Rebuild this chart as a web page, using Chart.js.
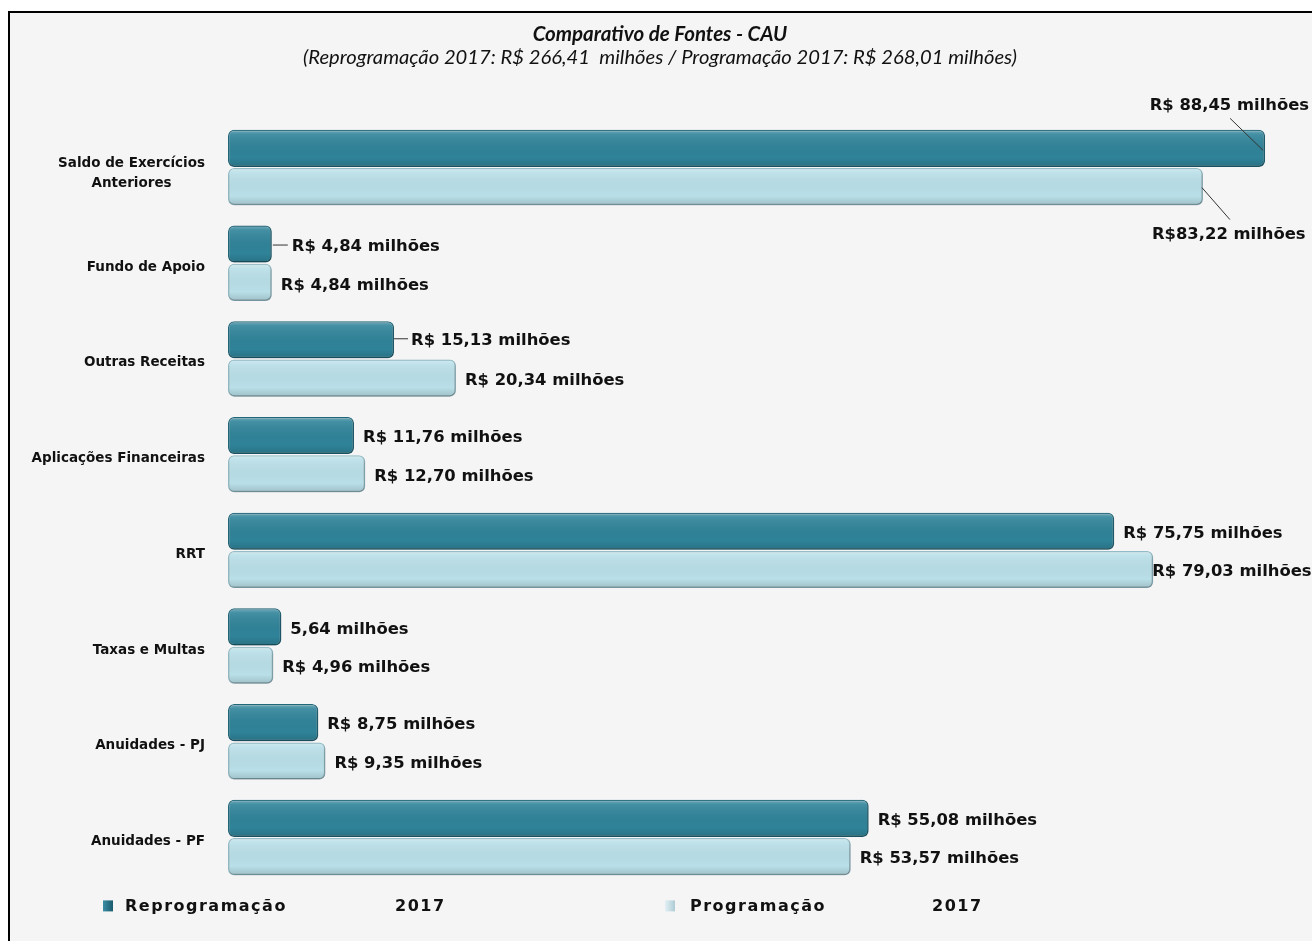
<!DOCTYPE html>
<html lang="pt-BR">
<head>
<meta charset="utf-8">
<title>Comparativo de Fontes - CAU</title>
<script src="https://cdn.jsdelivr.net/npm/chart.js@4.4.1/dist/chart.umd.min.js"></script>
<style>
  html, body { margin: 0; padding: 0; background: #fff; }
  #wrap { width: 1312px; height: 941px; }
</style>
</head>
<body>
<div id="wrap"><canvas id="fontes" width="1312" height="941"></canvas></div>
<script>
// fontes de receita, em milhões de R$
const categorias = [
  ['Saldo de Exercícios', 'Anteriores'],
  'Fundo de Apoio',
  'Outras Receitas',
  'Aplicações Financeiras',
  'RRT',
  'Taxas e Multas',
  'Anuidades - PJ',
  'Anuidades - PF'
];
const reprogramacao2017 = [88.45, 4.84, 15.13, 11.76, 75.75, 5.64, 8.75, 55.08];
const programacao2017 = [83.22, 4.84, 20.34, 12.70, 79.03, 4.96, 9.35, 53.57];

const rotulosReprog = [
  'R$ 88,45 milhões', 'R$ 4,84 milhões', 'R$ 15,13 milhões', 'R$ 11,76 milhões',
  'R$ 75,75 milhões', '5,64 milhões', 'R$ 8,75 milhões', 'R$ 55,08 milhões'
];
const rotulosProg = [
  'R$83,22 milhões', 'R$ 4,84 milhões', 'R$ 20,34 milhões', 'R$ 12,70 milhões',
  'R$ 79,03 milhões', 'R$ 4,96 milhões', 'R$ 9,35 milhões', 'R$ 53,57 milhões'
];

const titulo = 'Comparativo de Fontes - CAU';
const subtitulo = '(Reprogramação 2017: R$ 266,41  milhões / Programação 2017: R$ 268,01 milhões)';
const legendaNomes = ['Reprogramação', 'Programação'];
const legendaAno = '2017';

const eixoMin = 1.153;
const eixoMax = 90.55;

const corEscura = '#2f8399';
const corClara = '#b9dfe8';

// ajustes de posição dos rótulos (dx/dy em relação ao padrão, linhas guia relativas ao fim da barra)
const ajusteRotulos = {
  0: {
    0: { right: true, dx: 44, dy: -45, guia: [[-2, 2], [-35, -30]] },
    1: { dx: 11, dy: 0, guia: [[1, 1], [16, 1]] },
    2: { dx: 8, dy: -2, guia: [[0, -1], [14, -1]] }
  },
  1: {
    0: { dx: -60, dy: 46, guia: [[-1, 1], [27, 33]] },
    1: { dx: 0, dy: 1 },
    4: { dx: -10, dy: 0 }
  }
};

const fonteValor = 'bold 16.4px "DejaVu Sans"';
const fonteCategoria = 'bold 13.5px "DejaVu Sans"';

const moldura = {
  id: 'moldura',
  beforeDraw(chart) {
    const ctx = chart.ctx;
    ctx.save();
    ctx.fillStyle = '#ffffff';
    ctx.fillRect(0, 0, chart.width, chart.height);
    ctx.fillStyle = '#f5f5f5';
    ctx.fillRect(9, 12, chart.width - 9, chart.height - 12);
    ctx.strokeStyle = '#000';
    ctx.lineWidth = 2;
    ctx.beginPath();
    ctx.moveTo(9, chart.height);
    ctx.lineTo(9, 12);
    ctx.lineTo(chart.width, 12);
    ctx.stroke();
    ctx.restore();
  }
};

// sombra leve sob as barras e um brilho em relevo por cima
const relevoBarras = {
  id: 'relevoBarras',
  beforeDatasetsDraw(chart) {
    const ctx = chart.ctx;
    ctx.save();
    ctx.shadowColor = 'rgba(0,0,0,0.28)';
    ctx.shadowBlur = 3;
    ctx.shadowOffsetX = 1;
    ctx.shadowOffsetY = 2;
  },
  afterDatasetsDraw(chart) {
    const ctx = chart.ctx;
    ctx.restore();
    ctx.save();
    chart.data.datasets.forEach((ds, d) => {
      chart.getDatasetMeta(d).data.forEach(bar => {
        const { x, y, base, height } = bar.getProps(['x', 'y', 'base', 'height'], true);
        const top = y - height / 2;
        const g = ctx.createLinearGradient(0, top, 0, top + height);
        g.addColorStop(0, 'rgba(255,255,255,0.35)');
        g.addColorStop(0.12, 'rgba(255,255,255,0.10)');
        g.addColorStop(0.75, 'rgba(0,0,0,0)');
        g.addColorStop(1, 'rgba(0,0,0,0.14)');
        ctx.fillStyle = g;
        ctx.beginPath();
        ctx.roundRect(base + 1, top + 1, x - base - 2, height - 2, 5);
        ctx.fill();
      });
    });
    ctx.restore();
  }
};

const textos = {
  id: 'textos',
  afterDraw(chart) {
    const ctx = chart.ctx;
    const area = chart.chartArea;
    const y = chart.scales.y;
    ctx.save();
    ctx.fillStyle = '#111';

    // títulos
    ctx.textAlign = 'center';
    ctx.textBaseline = 'middle';
    ctx.font = 'italic bold 20.5px Lato';
    ctx.fillText(titulo, 660, 34);
    ctx.font = 'italic 20.2px Lato';
    ctx.fillText(subtitulo, 660, 57);

    // categorias
    ctx.font = fonteCategoria;
    categorias.forEach((c, i) => {
      const linhas = Array.isArray(c) ? c : [c];
      const largura = Math.max(...linhas.map(l => ctx.measureText(l).width));
      const cy = y.getPixelForValue(i) + (linhas.length > 1 ? 6 : 4);
      const altura = 20;
      linhas.forEach((l, k) => {
        const ly = cy + (k - (linhas.length - 1) / 2) * altura;
        if (linhas.length > 1) {
          ctx.textAlign = 'center';
          ctx.fillText(l, 205 - largura / 2, ly);
        } else {
          ctx.textAlign = 'right';
          ctx.fillText(l, 205, ly);
        }
      });
    });

    // rótulos de valor
    ctx.font = fonteValor;
    [rotulosReprog, rotulosProg].forEach((rotulos, d) => {
      const meta = chart.getDatasetMeta(d);
      meta.data.forEach((bar, i) => {
        const aj = (ajusteRotulos[d] && ajusteRotulos[d][i]) || { dx: 0, dy: 0 };
        let x = bar.x + 9 + aj.dx;
        const ly = bar.y + 2.5 + aj.dy;
        if (aj.right) {
          x = bar.x + aj.dx;
          ctx.textAlign = 'right';
        } else {
          ctx.textAlign = 'left';
        }
        ctx.fillText(rotulos[i], x, ly);
        if (aj.guia) {
          ctx.strokeStyle = '#333';
          ctx.lineWidth = 1;
          ctx.beginPath();
          ctx.moveTo(bar.x + aj.guia[0][0], bar.y + aj.guia[0][1]);
          ctx.lineTo(bar.x + aj.guia[1][0], bar.y + aj.guia[1][1]);
          ctx.stroke();
        }
      });
    });

    // legenda
    const ly = area.bottom + 21;
    const itens = [
      { marca: 103, nome: 125, ano: 395, cores: ['#3a8ea6', '#1b5a6c'] },
      { marca: 665, nome: 690, ano: 932, cores: ['#e2f1f5', '#aecbd4'] }
    ];
    ctx.textAlign = 'left';
    ctx.font = 'bold 16px "DejaVu Sans"';
    ctx.letterSpacing = '1.5px';
    itens.forEach((it, k) => {
      const g = ctx.createLinearGradient(it.marca, 0, it.marca + 10, 0);
      g.addColorStop(0, it.cores[0]);
      g.addColorStop(1, it.cores[1]);
      ctx.fillStyle = g;
      ctx.fillRect(it.marca, ly - 6, 10, 11);
      ctx.fillStyle = '#111';
      ctx.fillText(legendaNomes[k], it.nome, ly);
      ctx.fillText(legendaAno, it.ano, ly);
    });
    ctx.restore();
  }
};

const estiloBarra = {
  borderWidth: 1.5,
  borderRadius: 6,
  borderSkipped: false,
  base: eixoMin,
  categoryPercentage: 0.8,
  barPercentage: 0.97
};

const fontes = new Chart(document.getElementById('fontes'), {
  type: 'bar',
  data: {
    labels: categorias,
    datasets: [
      Object.assign({
        label: legendaNomes[0] + ' ' + legendaAno,
        data: reprogramacao2017,
        backgroundColor: corEscura,
        borderColor: '#22687b'
      }, estiloBarra),
      Object.assign({
        label: legendaNomes[1] + ' ' + legendaAno,
        data: programacao2017,
        backgroundColor: corClara,
        borderColor: '#93bdc8'
      }, estiloBarra)
    ]
  },
  options: {
    indexAxis: 'y',
    responsive: false,
    animation: false,
    layout: { padding: { left: 228, right: 22, top: 119.6, bottom: 55.6 } },
    scales: {
      x: { display: false, min: eixoMin, max: eixoMax },
      y: { display: false }
    },
    plugins: {
      legend: { display: false },
      title: { display: false },
      tooltip: { enabled: false }
    }
  },
  plugins: [moldura, relevoBarras, textos]
});
</script>
</body>
</html>
